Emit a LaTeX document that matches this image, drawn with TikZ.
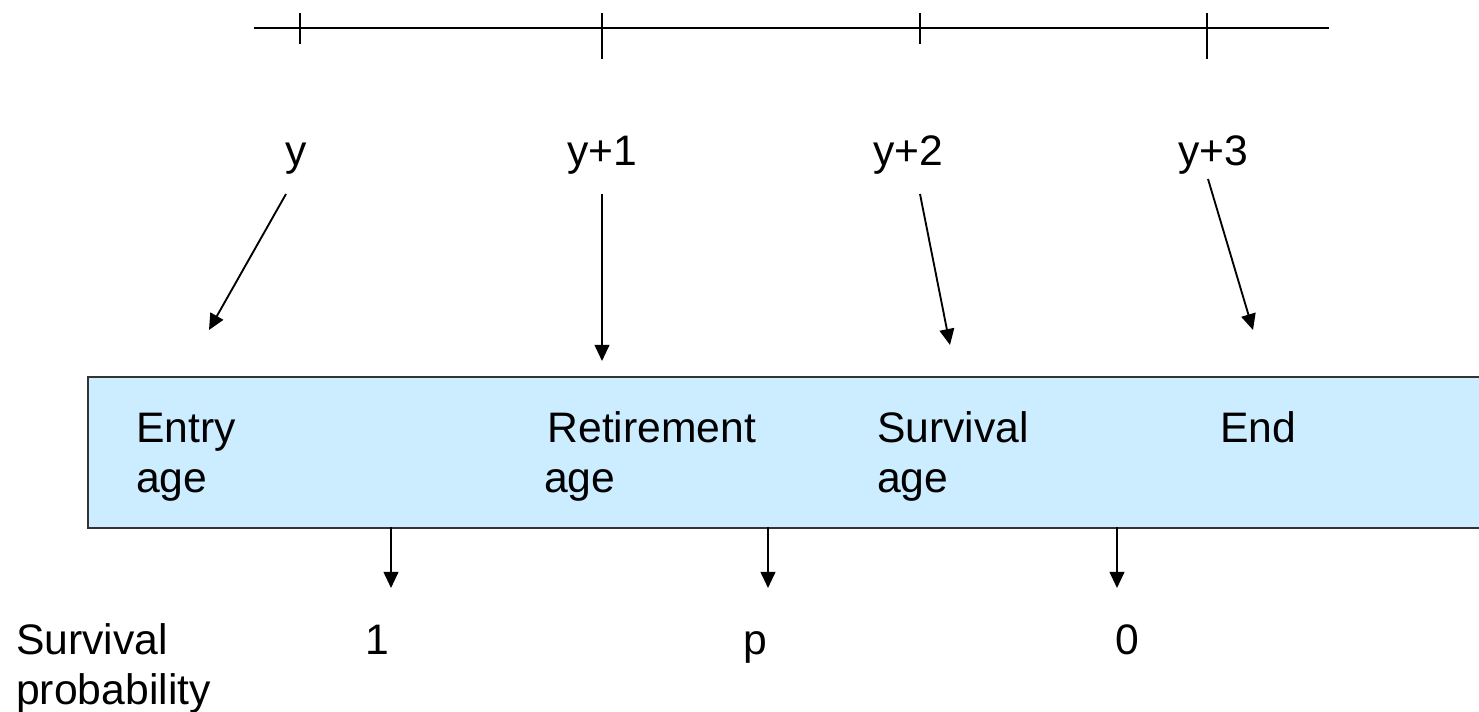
\documentclass[tikz,border=0pt]{standalone}
\usepackage{fontspec}
\setmainfont{Liberation Sans}
\usetikzlibrary{arrows.meta}
\definecolor{boxfill}{HTML}{CCECFF}
\definecolor{boxline}{HTML}{333333}
\tikzset{
  lbl/.style={font=\fontsize{32pt}{37.5pt}\selectfont, inner sep=0pt, anchor=base west, align=left},
  conn/.style={line width=1.4pt, -{Triangle[length=12pt,width=11pt]}},
  axis/.style={line width=1.5pt},
  bandbox/.style={draw=boxline, fill=boxfill, line width=1.5pt, anchor=north west, inner sep=0pt,
    minimum width=1060pt, minimum height=113.25pt}
}
\begin{document}
\begin{tikzpicture}[x=0.75pt,y=-0.75pt]
\clip (0,0) rectangle (1479,712);
\fill[white] (0,0) rectangle (1479,712);
% timeline
\coordinate (tl0) at (254,28);
\coordinate (tl1) at (1329,28);
\draw[axis] (tl0) -- (tl1);
\draw[axis] (300,13) -- (300,44);
\draw[axis] (602,13) -- (602,59);
\draw[axis] (920,13) -- (920,44);
\draw[axis] (1207,13) -- (1207,59);
% year labels
\node[lbl] (ly0) at (285,166) {y};
\node[lbl] (ly1) at (567,166) {y+1};
\node[lbl] (ly2) at (873,166) {y+2};
\node[lbl] (ly3) at (1178,166) {y+3};
% box
\node[bandbox] (box) at (87,376) {};
\node[lbl] (entry) at (136,493) {Entry\\age};
\node[lbl] (retire) at (544,493) {\kern2.5pt Retirement\\age};
\node[lbl] (surv) at (877,493) {Survival\\age};
\node[lbl] (endl) at (1220,443) {End};
% arrows from year labels
\coordinate (a0s) at (286,194); \coordinate (a0e) at (209,330);
\coordinate (a1s) at (602,194); \coordinate (a1e) at (602,361);
\coordinate (a2s) at (920,194); \coordinate (a2e) at (950,345);
\coordinate (a3s) at (1208,179); \coordinate (a3e) at (1253,330);
\draw[conn] (a0s) -- (a0e);
\draw[conn] (a1s) -- (a1e);
\draw[conn] (a2s) -- (a2e);
\draw[conn] (a3s) -- (a3e);
% arrows below box
\coordinate (b0s) at (391,527); \coordinate (b0e) at (391,588);
\coordinate (b1s) at (768,527); \coordinate (b1e) at (768,588);
\coordinate (b2s) at (1117,527); \coordinate (b2e) at (1117,588);
\draw[conn] (b0s) -- (b0e);
\draw[conn] (b1s) -- (b1e);
\draw[conn] (b2s) -- (b2e);
% survival probability
\node[lbl] (sp) at (16,705) {Survival\\probability};
\node[lbl] (p1) at (365,655) {1};
\node[lbl] (pp) at (743,655) {p};
\node[lbl] (p0) at (1115,655) {0};
\end{tikzpicture}
\end{document}
